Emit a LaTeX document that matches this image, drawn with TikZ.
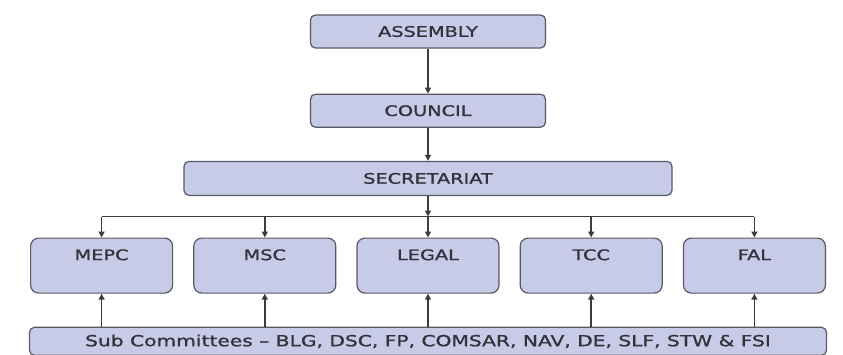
\documentclass[tikz,border=0pt]{standalone}
\usepackage{fontspec}
\usetikzlibrary{positioning,arrows.meta}
\newfontfamily\orgfont{DejaVu Sans}[FakeStretch=1.33, FakeBold=1.2]
\definecolor{boxfill}{RGB}{200,203,232}
\definecolor{boxline}{RGB}{88,88,100}
\definecolor{linkgray}{RGB}{60,60,64}
\definecolor{textgray}{RGB}{50,50,58}

\tikzset{
	orgbox/.style={draw=boxline, fill=boxfill, line width=1.2pt, rounded corners=5pt,
		text=textgray, font=\orgfont\fontsize{14.5}{17}\selectfont, inner sep=0pt},
	headbox/.style={orgbox, minimum width=235pt, minimum height=33pt},
	cttebox/.style={orgbox, rounded corners=8pt, minimum width=142pt,
		text height=22pt, text depth=33pt},
	link/.style={draw=linkgray, line width=1.6pt, -{Triangle[length=6pt,width=6pt]}},
}

\begin{document}
\begin{tikzpicture}[x=1pt, y=1pt, node distance=20pt]
	\useasboundingbox (0,0) rectangle (843,-354);

		\node [headbox] (assembly) at (428,-31.5) {ASSEMBLY};
		\node [headbox, below=45pt of assembly] (council) {COUNCIL};
		\node [headbox, minimum width=488pt, minimum height=34pt, below=33pt of council] (secretariat) {SECRETARIAT};
		\coordinate [below=20.5pt of secretariat] (bus);

		\node [cttebox, below=21pt of bus] (legal) {LEGAL};
		\node [cttebox, left=of legal] (msc) {MSC};
		\node [cttebox, left=of msc] (mepc) {MEPC};
		\node [cttebox, right=of legal] (tcc) {TCC};
		\node [cttebox, right=of tcc] (fal) {FAL};

		\node [orgbox, minimum width=797pt, minimum height=28pt, font=\orgfont\fontsize{15.2}{17}\selectfont,
			below=33pt of legal] (subctte)
			{Sub Committees – BLG, DSC, FP, COMSAR, NAV, DE, SLF, STW \& FSI};

		\draw [link] (assembly) -- (council);
		\draw [link] (council) -- (secretariat);
		\draw [link] (secretariat) -- (bus);
		\draw [linkgray, line width=1.6pt] (bus -| mepc) -- (bus -| fal);
		\foreach \ctte in {mepc, msc, legal, tcc, fal} {
			\draw [link] (bus -| \ctte) -- (\ctte.north);
			\draw [link] (subctte.north -| \ctte) -- (\ctte.south);
		}

\end{tikzpicture}
\end{document}
